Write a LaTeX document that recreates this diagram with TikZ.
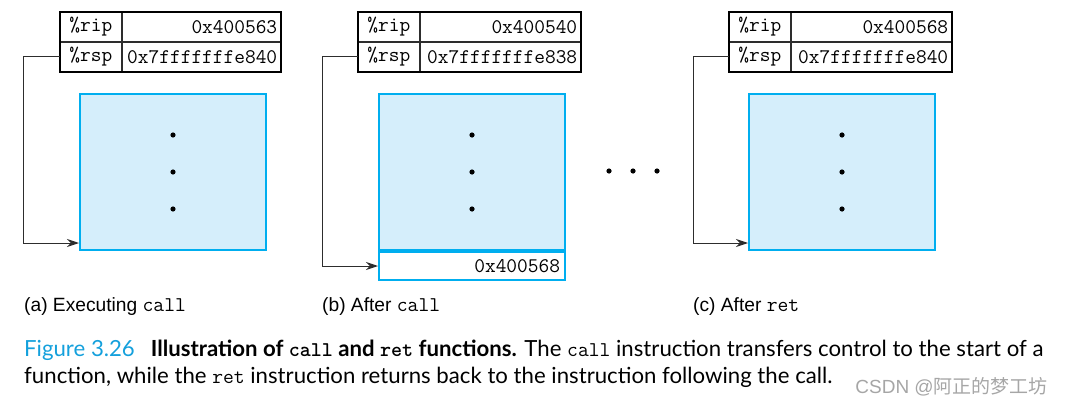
\documentclass[tikz,border=0pt]{standalone}
\usepackage{fontspec}
\setsansfont{Liberation Sans}
\newfontfamily\capfont{Lato}
\newfontfamily\cjkfont{Noto Sans CJK SC}
\usetikzlibrary{arrows.meta}
\definecolor{stackfill}{RGB}{213,238,251}
\definecolor{stackline}{RGB}{0,174,239}
\definecolor{figblue}{RGB}{20,160,220}
\definecolor{wirecol}{RGB}{45,45,45}
\newcommand{\code}[1]{{\fontsize{21}{21}\ttfamily #1}}

\begin{document}
\begin{tikzpicture}[x=1pt, y=-1pt,
        regname/.style={draw=wirecol, line width=0.8pt, minimum width=61pt,
          minimum height=29pt, inner sep=0pt, anchor=north west,
          font=\fontsize{20.8}{20.8}\ttfamily},
        regval/.style={draw=wirecol, line width=0.8pt, minimum height=29pt,
          inner xsep=3pt, inner ysep=0pt, anchor=north west, align=right,
          font=\fontsize{20.8}{20.8}\ttfamily},
        stack/.style={draw=stackline, fill=stackfill, line width=2pt,
          minimum width=186pt, minimum height=156pt, anchor=north west},
        slot/.style={draw=stackline, fill=white, line width=2pt,
          minimum width=186pt, minimum height=28pt, inner xsep=5pt,
          anchor=north, align=right, text width=176pt,
          font=\fontsize{20.8}{20.8}\ttfamily},
        caption/.style={anchor=west, inner sep=0pt,
          font=\fontsize{19.2}{19.2}\sffamily},
        figtext/.style={anchor=base west, inner sep=0pt,
          font=\fontsize{22.2}{22.2}\capfont},
        wire/.style={draw=wirecol, line width=1pt,
          -{Stealth[length=12pt, width=8pt]}},
        >=Stealth]
     \useasboundingbox (0,0) rectangle (1065,404);
     % (a) executing call
     \node (ripa) at (60,12) [regname] {\%rip};
     \node (ripvala) at (ripa.north east) [regval, text width=152pt] {0x400563};
     \node (rspa) at (ripa.south west) [regname] {\%rsp};
     \node (rspvala) at (rspa.north east) [regval, text width=152pt] {0x7fffffffe840};
     \draw[line width=2pt] (ripa.north west) rectangle (rspvala.south east);
     \node (stacka) at (79,93) [stack] {};
     \coordinate (tipa) at ([yshift=8pt]stacka.south west);
     \draw[wire] (rspa.west) -- ++(-37,0) |- (tipa);
     \node (capa) at (24,307) [caption] {(a) Executing \code{call}};
     % (b) after call
     \node (ripb) at (358,12) [regname] {\%rip};
     \node (ripvalb) at (ripb.north east) [regval, text width=154pt] {0x400540};
     \node (rspb) at (ripb.south west) [regname] {\%rsp};
     \node (rspvalb) at (rspb.north east) [regval, text width=154pt] {0x7fffffffe838};
     \draw[line width=2pt] (ripb.north west) rectangle (rspvalb.south east);
     \node (stackb) at (378,93) [stack] {};
     \node (retb) at (stackb.south) [slot] {0x400568};
     \draw[wire] (rspb.west) -- ++(-36,0) |- (retb.west);
     \node (capb) at (322,307) [caption] {(b) After \code{call}};
     % (c) after ret
     \node (ripc) at (729,12) [regname] {\%rip};
     \node (ripvalc) at (ripc.north east) [regval, text width=154pt] {0x400568};
     \node (rspc) at (ripc.south west) [regname] {\%rsp};
     \node (rspvalc) at (rspc.north east) [regval, text width=154pt] {0x7fffffffe840};
     \draw[line width=2pt] (ripc.north west) rectangle (rspvalc.south east);
     \node (stackc) at (748,93) [stack] {};
     \coordinate (tipc) at ([yshift=8pt]stackc.south west);
     \draw[wire] (rspc.west) -- ++(-36,0) |- (tipc);
     \node (capc) at (693,307) [caption] {(c) After \code{ret}};
     % stack contents not shown
     \foreach \s in {stacka, stackb, stackc}
       \foreach \dy in {-37, 0, 37}
         \fill ([yshift=\dy pt]\s.center) circle (2.6pt);
     \foreach \dx in {609, 633, 657}
       \fill (\dx,171) circle (2.6pt);
     % figure caption
     \node (figline1) at (24,356) [figtext] {\textcolor{figblue}{Figure 3.26}\hspace{16pt}\textbf{Illustration of
       \code{call} and \code{ret} functions.} The \code{call} instruction
       transfers control to the start of a};
     \node (figline2) at (24,383) [figtext] {function, while the \code{ret}
       instruction returns back to the instruction following the call.};
     \node (mark) at (1048,387) [anchor=east, inner sep=0pt, text=black!35,
       font=\fontsize{19}{19}\sffamily] {CSDN @\cjkfont 阿正的梦工坊};
    \end{tikzpicture}
\end{document}
